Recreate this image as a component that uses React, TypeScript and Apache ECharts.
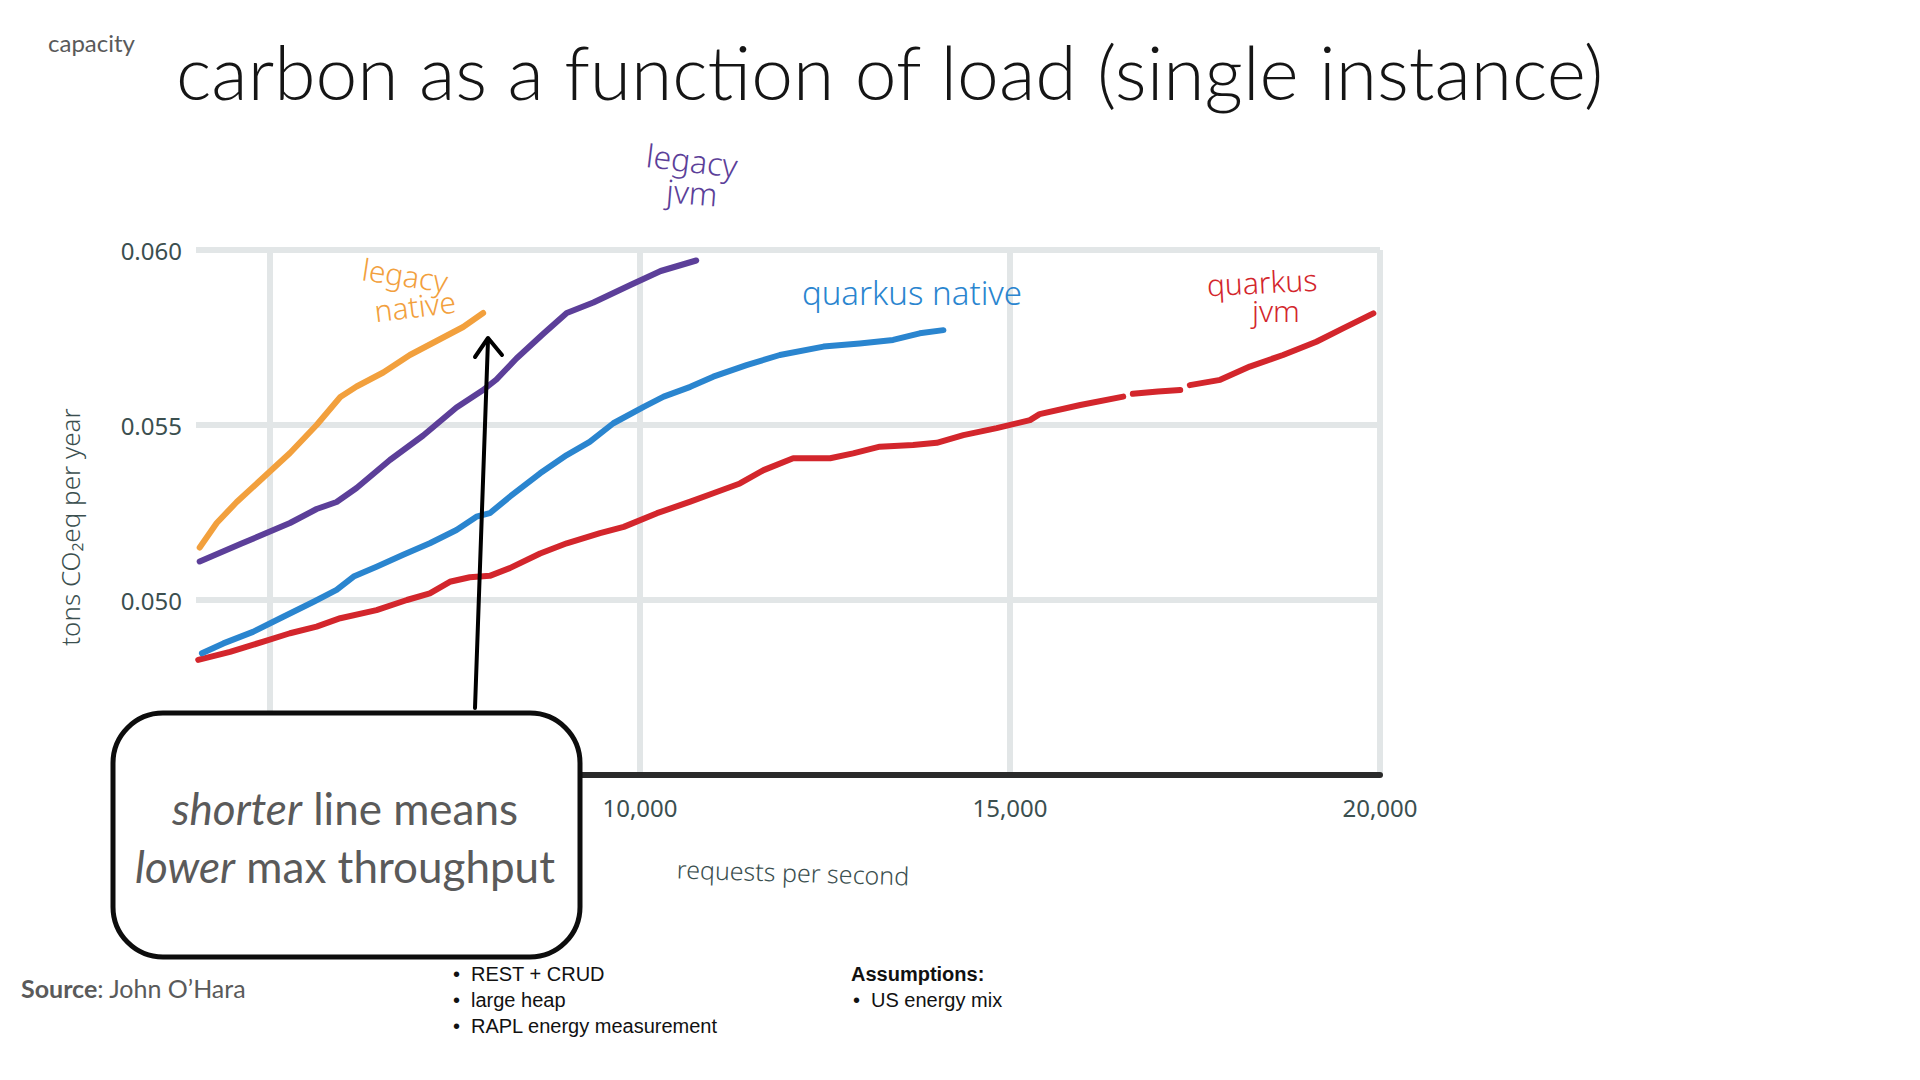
import React, { useEffect, useRef } from "react";
import * as echarts from "echarts";

// ---- data (requests per second, tons CO2eq per year) ----
const legacyNative = [
  [4050, 0.0515], [4280, 0.0522], [4550, 0.0528], [4910, 0.0535], [5270, 0.0542],
  [5630, 0.0550], [5950, 0.0558], [6170, 0.0561], [6530, 0.0565], [6890, 0.0570],
  [7250, 0.0574], [7610, 0.0578], [7880, 0.0582],
];
const legacyJvm = [
  [4050, 0.0511], [4600, 0.0516], [5270, 0.0522], [5630, 0.0526], [5900, 0.0528],
  [6170, 0.0532], [6620, 0.0540], [7070, 0.0547], [7520, 0.0555], [7880, 0.0560],
  [8060, 0.0563], [8330, 0.0569], [8690, 0.0576], [9010, 0.0582], [9370, 0.0585],
  [9870, 0.0590], [10280, 0.0594], [10760, 0.0597],
];
const quarkusNative = [
  [4080, 0.04848], [4370, 0.04876], [4770, 0.04909], [5180, 0.04952], [5590, 0.04995],
  [5900, 0.05029], [6130, 0.05067], [6440, 0.05095], [6800, 0.05129], [7160, 0.05162],
  [7520, 0.05200], [7790, 0.05238], [7970, 0.05248], [8240, 0.05295], [8650, 0.05362],
  [9010, 0.05414], [9320, 0.05452], [9640, 0.05505], [10050, 0.05552], [10320, 0.05581],
  [10680, 0.05609], [10990, 0.05638], [11440, 0.05671], [11890, 0.05700], [12480, 0.05724],
  [12970, 0.05733], [13420, 0.05743], [13780, 0.05762], [14100, 0.05771],
];
const quarkusJvm = [
  [4030, 0.04829], [4460, 0.04852], [4910, 0.04881], [5270, 0.04905], [5630, 0.04924],
  [5950, 0.04948], [6440, 0.04971], [6850, 0.05000], [7160, 0.05019], [7430, 0.05052],
  [7700, 0.05065], [7970, 0.05069], [8240, 0.05091], [8650, 0.05133], [9010, 0.05162],
  [9460, 0.05191], [9780, 0.05209], [10230, 0.05248], [10680, 0.05281], [10990, 0.05305],
  [11350, 0.05333], [11670, 0.05371], [12070, 0.05405], [12570, 0.05405], [12880, 0.05419],
  [13240, 0.05438], [13690, 0.05443], [14010, 0.05449], [14370, 0.05471], [14820, 0.05491],
  [15270, 0.05514], [15400, 0.05531], [15950, 0.05557], [16530, 0.05581], [16600, "-"],
  [16660, 0.05589], [17000, 0.05596], [17300, 0.05600], [17370, "-"], [17430, 0.05614],
  [17840, 0.05629], [18240, 0.05667], [18690, 0.05700], [19140, 0.05738], [19500, 0.05776],
  [19910, 0.05819],
];
const xTickLabels = [10000, 15000, 20000];
const yTickLabels = [0.05, 0.055, 0.06];

const COLORS = {
  legacyNative: "#f2a03d",
  legacyJvm: "#5c3f99",
  quarkusNative: "#2a85cf",
  quarkusJvm: "#d3262c",
  grid: "#e2e6e7",
  axisText: "#3b4f4f",
};

const HAND = '"Noto Sans", sans-serif';

export default function App() {
  const ref = useRef<HTMLDivElement>(null);
  useEffect(() => {
    if (!ref.current) return;
    const chart = echarts.init(ref.current, null, { renderer: "svg" });
    const mkLine = (name: string, data: any[], color: string) => ({
      name,
      type: "line",
      data,
      showSymbol: false,
      symbol: "none",
      connectNulls: false,
      smooth: false,
      lineStyle: { color, width: 6, cap: "round", join: "round" },
      z: 3,
    });
    const hand = (text: string, x: number, y: number, color: string, size: number, rotation = 0) => ({
      type: "text",
      x,
      y,
      rotation,
      z: 50,
      style: {
        text,
        fill: color,
        fontSize: size,
        fontFamily: HAND,
        fontWeight: 300,
        align: "center",
        verticalAlign: "middle",
      },
    });
    const plain = (text: string, x: number, y: number, size: number, color: string, weight: any = "normal", family = '"Liberation Sans", Arial, sans-serif') => ({
      type: "text",
      x,
      y,
      z: 50,
      style: { text, fill: color, fontSize: size, fontFamily: family, fontWeight: weight, align: "left", verticalAlign: "middle" },
    });
    const splitColors = ["rgba(0,0,0,0)", COLORS.grid, "rgba(0,0,0,0)", "rgba(0,0,0,0)", "rgba(0,0,0,0)"];
    const boxText = (text: string, y: number) => ({
      type: "text",
      z: 80,
      x: 345,
      y,
      style: {
        text,
        fill: "#5a5a5a",
        fontSize: 44,
        fontFamily: "Lato, sans-serif",
        fontWeight: "normal",
        align: "center",
        verticalAlign: "middle",
        rich: { i: { fontStyle: "italic", fontWeight: "normal", fontSize: 44, fill: "#5a5a5a", fontFamily: "Lato, sans-serif" } },
      },
    });
    chart.setOption({
      animation: false,
      backgroundColor: "#ffffff",
      grid: { left: 196, right: 540, top: 250, bottom: 305, containLabel: false },
      xAxis: {
        type: "value",
        min: 4000,
        max: 20000,
        interval: 1000,
        axisLine: { show: true, lineStyle: { color: "#2a2a2a", width: 6, cap: "round" } },
        axisTick: { show: false },
        splitLine: { show: true, lineStyle: { color: splitColors, width: 6 } },
        axisLabel: {
          margin: 20,
          fontSize: 24,
          color: COLORS.axisText,
          fontFamily: HAND,
          formatter: (v: number) => (xTickLabels.includes(v) ? v.toLocaleString("en-US") : ""),
        },
      },
      yAxis: {
        type: "value",
        min: 0.045,
        max: 0.06,
        interval: 0.005,
        axisLine: { show: false },
        axisTick: { show: false },
        splitLine: { show: true, lineStyle: { color: COLORS.grid, width: 6 } },
        axisLabel: {
          margin: 14,
          fontSize: 24,
          color: COLORS.axisText,
          fontFamily: HAND,
          formatter: (v: number) =>
            yTickLabels.some((t) => Math.abs(t - v) < 1e-6) ? v.toFixed(3) : "",
        },
      },
      series: [
        mkLine("quarkus jvm", quarkusJvm, COLORS.quarkusJvm),
        mkLine("quarkus native", quarkusNative, COLORS.quarkusNative),
        mkLine("legacy jvm", legacyJvm, COLORS.legacyJvm),
        mkLine("legacy native", legacyNative, COLORS.legacyNative),
      ],
      graphic: [
        {
          type: "text",
          x: 48,
          y: 42,
          z: 50,
          style: { text: "capacity", fill: "#5a5a5a", fontSize: 24, fontFamily: "Lato, sans-serif", align: "left", verticalAlign: "middle" },
        },
        {
          type: "text",
          x: 176,
          y: 71,
          z: 50,
          style: {
            text: "carbon as a function of load (single instance)",
            fill: "#151515",
            fontSize: 75,
            fontFamily: "Lato, sans-serif",
            fontWeight: 300,
            align: "left",
            verticalAlign: "middle",
          },
        },
        hand("legacy", 692, 160, COLORS.legacyJvm, 32, -0.12),
        hand("jvm", 692, 192, COLORS.legacyJvm, 32, -0.08),
        hand("legacy", 405, 275, COLORS.legacyNative, 30, -0.15),
        hand("native", 415, 306, COLORS.legacyNative, 30, 0.12),
        hand("quarkus native", 912, 292, COLORS.quarkusNative, 33, 0),
        hand("quarkus", 1262, 282, COLORS.quarkusJvm, 30, 0.05),
        hand("jvm", 1276, 310, COLORS.quarkusJvm, 30, 0),
        hand("tons CO₂eq per year", 70, 527, COLORS.axisText, 26, Math.PI / 2),
        hand("requests per second", 793, 872, COLORS.axisText, 25, -0.03),
        // arrow
        {
          type: "line",
          z: 60,
          shape: { x1: 475, y1: 708, x2: 488, y2: 340 },
          style: { stroke: "#000", lineWidth: 4, lineCap: "round" },
        },
        {
          type: "polyline",
          z: 60,
          shape: { points: [[475, 357], [488, 338], [502, 355]] },
          style: { stroke: "#000", lineWidth: 4, lineCap: "round", lineJoin: "round", fill: null },
        },
        // callout box
        {
          type: "rect",
          z: 70,
          shape: { x: 113, y: 713, width: 467, height: 244, r: 50 },
          style: { fill: "#ffffff", stroke: "#0d0d0d", lineWidth: 5 },
        },
        boxText("{i|shorter} line means", 808),
        boxText("{i|lower} max throughput", 866),
        // footer
        {
          type: "text",
          x: 21,
          y: 988,
          z: 50,
          style: {
            text: "{b|Source}: John O’Hara",
            fill: "#5a5a5a",
            fontSize: 25,
            fontFamily: "Lato, sans-serif",
            align: "left",
            verticalAlign: "middle",
            rich: { b: { fontWeight: "bold", fontSize: 25, fill: "#5a5a5a", fontFamily: "Lato, sans-serif" } },
          },
        },
        plain("•", 453, 974, 20, "#111"),
        plain("REST + CRUD", 471, 974, 20, "#111"),
        plain("•", 453, 1000, 20, "#111"),
        plain("large heap", 471, 1000, 20, "#111"),
        plain("•", 453, 1026, 20, "#111"),
        plain("RAPL energy measurement", 471, 1026, 20, "#111"),
        plain("Assumptions:", 851, 974, 20, "#111", "bold"),
        plain("•", 853, 1000, 20, "#111"),
        plain("US energy mix", 871, 1000, 20, "#111"),
      ],
    });
    return () => chart.dispose();
  }, []);
  return (
    <div
      ref={ref}
      style={{ position: "absolute", left: 0, top: 0, width: 1920, height: 1080, background: "#fff" }}
    />
  );
}
